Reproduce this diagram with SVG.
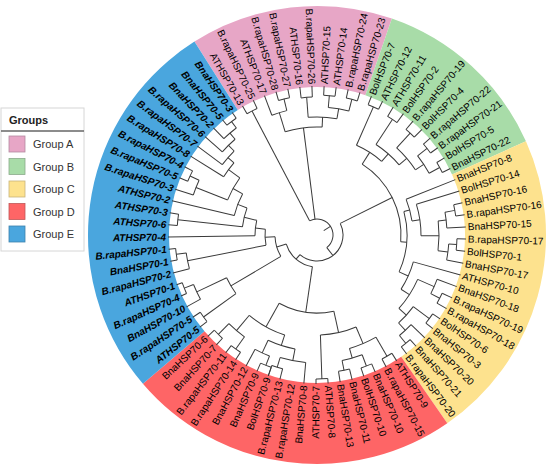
<svg xmlns="http://www.w3.org/2000/svg" width="550" height="473" viewBox="0 0 550 473">
<style>
.t{font-family:"Liberation Sans",Arial,sans-serif;font-size:10px;fill:#000;dominant-baseline:central}
.f{text-anchor:end}
.e{font-weight:bold;font-style:italic}
.band{fill:none;stroke-width:81}
.lg{font-family:"Liberation Sans",Arial,sans-serif;font-size:11px;fill:#333}
</style>
<rect width="550" height="473" fill="#fff"/>
<g id="bands" transform="translate(317 235)">
<circle id="band-A" class="band" r="188.5" pathLength="360" stroke="#E7A6C6" stroke-dasharray="51.43 400" transform="rotate(-122.34)"/>
<circle id="band-B" class="band" r="188.5" pathLength="360" stroke="#A8DCA8" stroke-dasharray="46.75 400" transform="rotate(-70.91)"/>
<circle id="band-C" class="band" r="188.5" pathLength="360" stroke="#FDE28E" stroke-dasharray="79.48 400" transform="rotate(-24.16)"/>
<circle id="band-D" class="band" r="188.5" pathLength="360" stroke="#FE6566" stroke-dasharray="84.16 400" transform="rotate(55.32)"/>
<circle id="band-E" class="band" r="188.5" pathLength="360" stroke="#4AA6DE" stroke-dasharray="98.18 400" transform="rotate(139.48)"/>
</g>
<g id="connectors" transform="translate(317 235)" fill="none" stroke="#3a3a3a" stroke-width="1">
<g id="radials">
<line x1="8" x2="16" transform="rotate(-32.7)"/>
<line x1="16" x2="140" transform="rotate(-117.66)"/>
<line x1="140" x2="149" transform="rotate(-120)"/>
<line x1="140" x2="149" transform="rotate(-115.32)"/>
<line x1="16" x2="108" transform="rotate(-97.21)"/>
<line x1="108" x2="128" transform="rotate(-107.14)"/>
<line x1="128" x2="149" transform="rotate(-110.65)"/>
<line x1="128" x2="140" transform="rotate(-103.64)"/>
<line x1="140" x2="149" transform="rotate(-105.97)"/>
<line x1="140" x2="149" transform="rotate(-101.30)"/>
<line x1="108" x2="118" transform="rotate(-87.28)"/>
<line x1="118" x2="138" transform="rotate(-94.29)"/>
<line x1="138" x2="149" transform="rotate(-96.62)"/>
<line x1="138" x2="149" transform="rotate(-91.95)"/>
<line x1="118" x2="128" transform="rotate(-80.26)"/>
<line x1="128" x2="140" transform="rotate(-84.94)"/>
<line x1="140" x2="149" transform="rotate(-87.27)"/>
<line x1="140" x2="149" transform="rotate(-82.60)"/>
<line x1="128" x2="140" transform="rotate(-75.59)"/>
<line x1="140" x2="149" transform="rotate(-77.92)"/>
<line x1="140" x2="149" transform="rotate(-73.25)"/>
<line x1="16" x2="26" transform="rotate(52.2)"/>
<line x1="26" x2="84" transform="rotate(-26.47)"/>
<line x1="84" x2="98" transform="rotate(-57.48)"/>
<line x1="98" x2="140" transform="rotate(-66.24)"/>
<line x1="140" x2="149" transform="rotate(-68.57)"/>
<line x1="140" x2="149" transform="rotate(-63.90)"/>
<line x1="98" x2="108" transform="rotate(-48.71)"/>
<line x1="108" x2="138" transform="rotate(-56.89)"/>
<line x1="138" x2="149" transform="rotate(-59.22)"/>
<line x1="138" x2="149" transform="rotate(-54.55)"/>
<line x1="108" x2="118" transform="rotate(-40.52)"/>
<line x1="118" x2="138" transform="rotate(-47.53)"/>
<line x1="138" x2="149" transform="rotate(-49.87)"/>
<line x1="138" x2="149" transform="rotate(-45.19)"/>
<line x1="118" x2="128" transform="rotate(-33.51)"/>
<line x1="128" x2="140" transform="rotate(-38.18)"/>
<line x1="140" x2="149" transform="rotate(-40.52)"/>
<line x1="140" x2="149" transform="rotate(-35.84)"/>
<line x1="128" x2="140" transform="rotate(-28.83)"/>
<line x1="140" x2="149" transform="rotate(-31.17)"/>
<line x1="140" x2="149" transform="rotate(-26.49)"/>
<line x1="84" x2="90" transform="rotate(4.55)"/>
<line x1="90" x2="96" transform="rotate(-15.10)"/>
<line x1="96" x2="149" transform="rotate(-21.82)"/>
<line x1="96" x2="104" transform="rotate(-8.38)"/>
<line x1="104" x2="149" transform="rotate(-17.14)"/>
<line x1="104" x2="122" transform="rotate(0.39)"/>
<line x1="122" x2="130" transform="rotate(-6.63)"/>
<line x1="130" x2="140" transform="rotate(-10.13)"/>
<line x1="140" x2="149" transform="rotate(-12.47)"/>
<line x1="140" x2="149" transform="rotate(-7.79)"/>
<line x1="130" x2="149" transform="rotate(-3.12)"/>
<line x1="122" x2="132" transform="rotate(7.40)"/>
<line x1="132" x2="140" transform="rotate(3.90)"/>
<line x1="140" x2="149" transform="rotate(1.56)"/>
<line x1="140" x2="149" transform="rotate(6.23)"/>
<line x1="132" x2="149" transform="rotate(10.91)"/>
<line x1="90" x2="100" transform="rotate(24.21)"/>
<line x1="100" x2="149" transform="rotate(15.58)"/>
<line x1="100" x2="110" transform="rotate(32.83)"/>
<line x1="110" x2="128" transform="rotate(23.77)"/>
<line x1="128" x2="149" transform="rotate(20.26)"/>
<line x1="128" x2="138" transform="rotate(27.28)"/>
<line x1="138" x2="149" transform="rotate(24.94)"/>
<line x1="138" x2="149" transform="rotate(29.61)"/>
<line x1="110" x2="120" transform="rotate(41.89)"/>
<line x1="120" x2="140" transform="rotate(36.63)"/>
<line x1="140" x2="149" transform="rotate(34.29)"/>
<line x1="140" x2="149" transform="rotate(38.96)"/>
<line x1="120" x2="130" transform="rotate(47.15)"/>
<line x1="130" x2="149" transform="rotate(43.64)"/>
<line x1="130" x2="140" transform="rotate(50.65)"/>
<line x1="140" x2="149" transform="rotate(48.31)"/>
<line x1="140" x2="149" transform="rotate(52.99)"/>
<line x1="26" x2="32" transform="rotate(130.9)"/>
<line x1="32" x2="78" transform="rotate(98.28)"/>
<line x1="78" x2="100" transform="rotate(77.53)"/>
<line x1="100" x2="118" transform="rotate(67.01)"/>
<line x1="118" x2="140" transform="rotate(60.00)"/>
<line x1="140" x2="149" transform="rotate(57.66)"/>
<line x1="140" x2="149" transform="rotate(62.34)"/>
<line x1="118" x2="128" transform="rotate(74.03)"/>
<line x1="128" x2="140" transform="rotate(69.35)"/>
<line x1="140" x2="149" transform="rotate(67.01)"/>
<line x1="140" x2="149" transform="rotate(71.69)"/>
<line x1="128" x2="138" transform="rotate(78.70)"/>
<line x1="138" x2="149" transform="rotate(76.36)"/>
<line x1="138" x2="149" transform="rotate(81.04)"/>
<line x1="100" x2="144" transform="rotate(88.05)"/>
<line x1="144" x2="149" transform="rotate(85.71)"/>
<line x1="144" x2="149" transform="rotate(90.39)"/>
<line x1="78" x2="105" transform="rotate(119.03)"/>
<line x1="105" x2="116" transform="rotate(107.92)"/>
<line x1="116" x2="128" transform="rotate(100.91)"/>
<line x1="128" x2="149" transform="rotate(95.06)"/>
<line x1="128" x2="138" transform="rotate(106.75)"/>
<line x1="138" x2="149" transform="rotate(104.42)"/>
<line x1="138" x2="149" transform="rotate(109.09)"/>
<line x1="116" x2="130" transform="rotate(114.94)"/>
<line x1="130" x2="140" transform="rotate(111.43)"/>
<line x1="140" x2="149" transform="rotate(109.09)"/>
<line x1="140" x2="149" transform="rotate(113.77)"/>
<line x1="130" x2="149" transform="rotate(118.44)"/>
<line x1="105" x2="125" transform="rotate(130.13)"/>
<line x1="125" x2="140" transform="rotate(125.46)"/>
<line x1="140" x2="149" transform="rotate(123.12)"/>
<line x1="140" x2="149" transform="rotate(127.79)"/>
<line x1="125" x2="140" transform="rotate(134.81)"/>
<line x1="140" x2="149" transform="rotate(132.47)"/>
<line x1="140" x2="149" transform="rotate(137.14)"/>
<line x1="32" x2="42" transform="rotate(163.5)"/>
<line x1="42" x2="100" transform="rotate(149.42)"/>
<line x1="100" x2="140" transform="rotate(144.16)"/>
<line x1="140" x2="149" transform="rotate(141.82)"/>
<line x1="140" x2="149" transform="rotate(146.49)"/>
<line x1="100" x2="133" transform="rotate(154.68)"/>
<line x1="133" x2="149" transform="rotate(151.17)"/>
<line x1="133" x2="143" transform="rotate(158.18)"/>
<line x1="143" x2="149" transform="rotate(155.84)"/>
<line x1="143" x2="149" transform="rotate(160.52)"/>
<line x1="42" x2="52" transform="rotate(177.58)"/>
<line x1="52" x2="132" transform="rotate(168.70)"/>
<line x1="132" x2="149" transform="rotate(165.19)"/>
<line x1="132" x2="142" transform="rotate(172.21)"/>
<line x1="142" x2="149" transform="rotate(169.87)"/>
<line x1="142" x2="149" transform="rotate(174.55)"/>
<line x1="52" x2="62" transform="rotate(186.45)"/>
<line x1="62" x2="149" transform="rotate(179.22)"/>
<line x1="62" x2="75" transform="rotate(193.67)"/>
<line x1="75" x2="140" transform="rotate(186.24)"/>
<line x1="140" x2="149" transform="rotate(183.90)"/>
<line x1="140" x2="149" transform="rotate(188.57)"/>
<line x1="75" x2="85" transform="rotate(201.1)"/>
<line x1="85" x2="149" transform="rotate(193.25)"/>
<line x1="85" x2="96" transform="rotate(208.96)"/>
<line x1="96" x2="130" transform="rotate(201.43)"/>
<line x1="130" x2="149" transform="rotate(197.92)"/>
<line x1="130" x2="140" transform="rotate(204.94)"/>
<line x1="140" x2="149" transform="rotate(202.60)"/>
<line x1="140" x2="149" transform="rotate(207.27)"/>
<line x1="96" x2="110" transform="rotate(216.48)"/>
<line x1="110" x2="149" transform="rotate(211.95)"/>
<line x1="110" x2="118" transform="rotate(221.0)"/>
<line x1="118" x2="149" transform="rotate(216.62)"/>
<line x1="118" x2="126" transform="rotate(225.39)"/>
<line x1="126" x2="149" transform="rotate(221.30)"/>
<line x1="126" x2="134" transform="rotate(229.48)"/>
<line x1="134" x2="149" transform="rotate(225.97)"/>
<line x1="134" x2="142" transform="rotate(233.0)"/>
<line x1="142" x2="149" transform="rotate(230.65)"/>
<line x1="142" x2="149" transform="rotate(235.32)"/>
</g>
<g id="arcs">
<circle r="16" pathLength="360" stroke-dasharray="169.86 400" transform="rotate(-117.66)"/>
<circle r="140" pathLength="360" stroke-dasharray="4.68 400" transform="rotate(-120)"/>
<circle r="108" pathLength="360" stroke-dasharray="19.86 400" transform="rotate(-107.14)"/>
<circle r="128" pathLength="360" stroke-dasharray="7.01 400" transform="rotate(-110.65)"/>
<circle r="140" pathLength="360" stroke-dasharray="4.67 400" transform="rotate(-105.97)"/>
<circle r="118" pathLength="360" stroke-dasharray="14.03 400" transform="rotate(-94.29)"/>
<circle r="138" pathLength="360" stroke-dasharray="4.67 400" transform="rotate(-96.62)"/>
<circle r="128" pathLength="360" stroke-dasharray="9.35 400" transform="rotate(-84.94)"/>
<circle r="140" pathLength="360" stroke-dasharray="4.67 400" transform="rotate(-87.27)"/>
<circle r="140" pathLength="360" stroke-dasharray="4.67 400" transform="rotate(-77.92)"/>
<circle r="26" pathLength="360" stroke-dasharray="157.37 400" transform="rotate(-26.47)"/>
<circle r="84" pathLength="360" stroke-dasharray="62.03 400" transform="rotate(-57.48)"/>
<circle r="98" pathLength="360" stroke-dasharray="17.53 400" transform="rotate(-66.24)"/>
<circle r="140" pathLength="360" stroke-dasharray="4.67 400" transform="rotate(-68.57)"/>
<circle r="108" pathLength="360" stroke-dasharray="16.37 400" transform="rotate(-56.89)"/>
<circle r="138" pathLength="360" stroke-dasharray="4.67 400" transform="rotate(-59.22)"/>
<circle r="118" pathLength="360" stroke-dasharray="14.02 400" transform="rotate(-47.53)"/>
<circle r="138" pathLength="360" stroke-dasharray="4.68 400" transform="rotate(-49.87)"/>
<circle r="128" pathLength="360" stroke-dasharray="9.35 400" transform="rotate(-38.18)"/>
<circle r="140" pathLength="360" stroke-dasharray="4.68 400" transform="rotate(-40.52)"/>
<circle r="140" pathLength="360" stroke-dasharray="4.68 400" transform="rotate(-31.17)"/>
<circle r="90" pathLength="360" stroke-dasharray="39.31 400" transform="rotate(-15.10)"/>
<circle r="96" pathLength="360" stroke-dasharray="13.44 400" transform="rotate(-21.82)"/>
<circle r="104" pathLength="360" stroke-dasharray="17.53 400" transform="rotate(-17.14)"/>
<circle r="122" pathLength="360" stroke-dasharray="14.03 400" transform="rotate(-6.63)"/>
<circle r="130" pathLength="360" stroke-dasharray="7.01 400" transform="rotate(-10.13)"/>
<circle r="140" pathLength="360" stroke-dasharray="4.68 400" transform="rotate(-12.47)"/>
<circle r="132" pathLength="360" stroke-dasharray="7.01 400" transform="rotate(3.90)"/>
<circle r="140" pathLength="360" stroke-dasharray="4.67 400" transform="rotate(1.56)"/>
<circle r="100" pathLength="360" stroke-dasharray="17.25 400" transform="rotate(15.58)"/>
<circle r="110" pathLength="360" stroke-dasharray="18.12 400" transform="rotate(23.77)"/>
<circle r="128" pathLength="360" stroke-dasharray="7.02 400" transform="rotate(20.26)"/>
<circle r="138" pathLength="360" stroke-dasharray="4.67 400" transform="rotate(24.94)"/>
<circle r="120" pathLength="360" stroke-dasharray="10.52 400" transform="rotate(36.63)"/>
<circle r="140" pathLength="360" stroke-dasharray="4.67 400" transform="rotate(34.29)"/>
<circle r="130" pathLength="360" stroke-dasharray="7.01 400" transform="rotate(43.64)"/>
<circle r="140" pathLength="360" stroke-dasharray="4.68 400" transform="rotate(48.31)"/>
<circle r="32" pathLength="360" stroke-dasharray="65.22 400" transform="rotate(98.28)"/>
<circle r="78" pathLength="360" stroke-dasharray="41.5 400" transform="rotate(77.53)"/>
<circle r="100" pathLength="360" stroke-dasharray="21.04 400" transform="rotate(67.01)"/>
<circle r="118" pathLength="360" stroke-dasharray="14.03 400" transform="rotate(60.00)"/>
<circle r="140" pathLength="360" stroke-dasharray="4.68 400" transform="rotate(57.66)"/>
<circle r="128" pathLength="360" stroke-dasharray="9.35 400" transform="rotate(69.35)"/>
<circle r="140" pathLength="360" stroke-dasharray="4.68 400" transform="rotate(67.01)"/>
<circle r="138" pathLength="360" stroke-dasharray="4.68 400" transform="rotate(76.36)"/>
<circle r="144" pathLength="360" stroke-dasharray="4.68 400" transform="rotate(85.71)"/>
<circle r="105" pathLength="360" stroke-dasharray="22.21 400" transform="rotate(107.92)"/>
<circle r="116" pathLength="360" stroke-dasharray="14.03 400" transform="rotate(100.91)"/>
<circle r="128" pathLength="360" stroke-dasharray="11.69 400" transform="rotate(95.06)"/>
<circle r="138" pathLength="360" stroke-dasharray="4.67 400" transform="rotate(104.42)"/>
<circle r="130" pathLength="360" stroke-dasharray="7.01 400" transform="rotate(111.43)"/>
<circle r="140" pathLength="360" stroke-dasharray="4.68 400" transform="rotate(109.09)"/>
<circle r="125" pathLength="360" stroke-dasharray="9.35 400" transform="rotate(125.46)"/>
<circle r="140" pathLength="360" stroke-dasharray="4.67 400" transform="rotate(123.12)"/>
<circle r="140" pathLength="360" stroke-dasharray="4.67 400" transform="rotate(132.47)"/>
<circle r="42" pathLength="360" stroke-dasharray="28.16 400" transform="rotate(149.42)"/>
<circle r="100" pathLength="360" stroke-dasharray="10.52 400" transform="rotate(144.16)"/>
<circle r="140" pathLength="360" stroke-dasharray="4.67 400" transform="rotate(141.82)"/>
<circle r="133" pathLength="360" stroke-dasharray="7.01 400" transform="rotate(151.17)"/>
<circle r="143" pathLength="360" stroke-dasharray="4.68 400" transform="rotate(155.84)"/>
<circle r="52" pathLength="360" stroke-dasharray="17.75 400" transform="rotate(168.70)"/>
<circle r="132" pathLength="360" stroke-dasharray="7.02 400" transform="rotate(165.19)"/>
<circle r="142" pathLength="360" stroke-dasharray="4.68 400" transform="rotate(169.87)"/>
<circle r="62" pathLength="360" stroke-dasharray="14.45 400" transform="rotate(179.22)"/>
<circle r="75" pathLength="360" stroke-dasharray="14.86 400" transform="rotate(186.24)"/>
<circle r="140" pathLength="360" stroke-dasharray="4.67 400" transform="rotate(183.90)"/>
<circle r="85" pathLength="360" stroke-dasharray="15.71 400" transform="rotate(193.25)"/>
<circle r="96" pathLength="360" stroke-dasharray="15.05 400" transform="rotate(201.43)"/>
<circle r="130" pathLength="360" stroke-dasharray="7.02 400" transform="rotate(197.92)"/>
<circle r="140" pathLength="360" stroke-dasharray="4.67 400" transform="rotate(202.60)"/>
<circle r="110" pathLength="360" stroke-dasharray="9.05 400" transform="rotate(211.95)"/>
<circle r="118" pathLength="360" stroke-dasharray="8.77 400" transform="rotate(216.62)"/>
<circle r="126" pathLength="360" stroke-dasharray="8.18 400" transform="rotate(221.30)"/>
<circle r="134" pathLength="360" stroke-dasharray="7.03 400" transform="rotate(225.97)"/>
<circle r="142" pathLength="360" stroke-dasharray="4.67 400" transform="rotate(230.65)"/>
</g>
</g>
<g id="labels" transform="translate(317 235)">
<g id="leaf00"><text class="t f" transform="rotate(-120) translate(151 0) rotate(180)">ATHSP70-13</text></g>
<g id="leaf01"><text class="t f" transform="rotate(-115.32) translate(151 0) rotate(180)">B.rapaHSP70-25</text></g>
<g id="leaf02"><text class="t f" transform="rotate(-110.65) translate(151 0) rotate(180)">ATHSP70-17</text></g>
<g id="leaf03"><text class="t f" transform="rotate(-105.97) translate(151 0) rotate(180)">B.rapaHSP70-28</text></g>
<g id="leaf04"><text class="t f" transform="rotate(-101.30) translate(151 0) rotate(180)">B.rapaHSP70-27</text></g>
<g id="leaf05"><text class="t f" transform="rotate(-96.62) translate(151 0) rotate(180)">ATHSP70-16</text></g>
<g id="leaf06"><text class="t f" transform="rotate(-91.95) translate(151 0) rotate(180)">B.rapaHSP70-26</text></g>
<g id="leaf07"><text class="t" transform="rotate(-87.27) translate(151 0)">ATHSP70-15</text></g>
<g id="leaf08"><text class="t" transform="rotate(-82.60) translate(151 0)">ATHSP70-14</text></g>
<g id="leaf09"><text class="t" transform="rotate(-77.92) translate(151 0)">B.rapaHSP70-24</text></g>
<g id="leaf10"><text class="t" transform="rotate(-73.25) translate(151 0)">B.rapaHSP70-23</text></g>
<g id="leaf11"><text class="t" transform="rotate(-68.57) translate(151 0)">BolHSP70-7</text></g>
<g id="leaf12"><text class="t" transform="rotate(-63.90) translate(151 0)">ATHSP70-12</text></g>
<g id="leaf13"><text class="t" transform="rotate(-59.22) translate(151 0)">ATHSP70-11</text></g>
<g id="leaf14"><text class="t" transform="rotate(-54.55) translate(151 0)">BolHSP70-2</text></g>
<g id="leaf15"><text class="t" transform="rotate(-49.87) translate(151 0)">B.rapaHSP70-19</text></g>
<g id="leaf16"><text class="t" transform="rotate(-45.19) translate(151 0)">BolHSP70-4</text></g>
<g id="leaf17"><text class="t" transform="rotate(-40.52) translate(151 0)">B.rapaHSP70-22</text></g>
<g id="leaf18"><text class="t" transform="rotate(-35.84) translate(151 0)">B.rapaHSP70-21</text></g>
<g id="leaf19"><text class="t" transform="rotate(-31.17) translate(151 0)">BolHSP70-5</text></g>
<g id="leaf20"><text class="t" transform="rotate(-26.49) translate(151 0)">BnaHSP70-22</text></g>
<g id="leaf21"><text class="t" transform="rotate(-21.82) translate(151 0)">BnaHSP70-8</text></g>
<g id="leaf22"><text class="t" transform="rotate(-17.14) translate(151 0)">BolHSP70-14</text></g>
<g id="leaf23"><text class="t" transform="rotate(-12.47) translate(151 0)">BnaHSP70-16</text></g>
<g id="leaf24"><text class="t" transform="rotate(-7.79) translate(151 0)">B.rapaHSP70-16</text></g>
<g id="leaf25"><text class="t" transform="rotate(-3.12) translate(151 0)">BnaHSP70-15</text></g>
<g id="leaf26"><text class="t" transform="rotate(1.56) translate(151 0)">B.rapaHSP70-17</text></g>
<g id="leaf27"><text class="t" transform="rotate(6.23) translate(151 0)">BolHSP70-1</text></g>
<g id="leaf28"><text class="t" transform="rotate(10.91) translate(151 0)">BnaHSP70-17</text></g>
<g id="leaf29"><text class="t" transform="rotate(15.58) translate(151 0)">ATHSP70-10</text></g>
<g id="leaf30"><text class="t" transform="rotate(20.26) translate(151 0)">BnaHSP70-18</text></g>
<g id="leaf31"><text class="t" transform="rotate(24.94) translate(151 0)">B.rapaHSP70-19</text></g>
<g id="leaf32"><text class="t" transform="rotate(29.61) translate(151 0)">B.rapaHSP70-18</text></g>
<g id="leaf33"><text class="t" transform="rotate(34.29) translate(151 0)">BolHSP70-6</text></g>
<g id="leaf34"><text class="t" transform="rotate(38.96) translate(151 0)">BnaHSP70-3</text></g>
<g id="leaf35"><text class="t" transform="rotate(43.64) translate(151 0)">BnaHSP70-20</text></g>
<g id="leaf36"><text class="t" transform="rotate(48.31) translate(151 0)">BnaHSP70-21</text></g>
<g id="leaf37"><text class="t" transform="rotate(52.99) translate(151 0)">B.rapaHSP70-20</text></g>
<g id="leaf38"><text class="t" transform="rotate(57.66) translate(151 0)">ATHSP70-9</text></g>
<g id="leaf39"><text class="t" transform="rotate(62.34) translate(151 0)">B.rapaHSP70-15</text></g>
<g id="leaf40"><text class="t" transform="rotate(67.01) translate(151 0)">BnaHSP70-10</text></g>
<g id="leaf41"><text class="t" transform="rotate(71.69) translate(151 0)">BolHSP70-10</text></g>
<g id="leaf42"><text class="t" transform="rotate(76.36) translate(151 0)">BnaHSP70-11</text></g>
<g id="leaf43"><text class="t" transform="rotate(81.04) translate(151 0)">BnaHSP70-13</text></g>
<g id="leaf44"><text class="t" transform="rotate(85.71) translate(151 0)">ATHSP70-8</text></g>
<g id="leaf45"><text class="t f" transform="rotate(90.39) translate(151 0) rotate(180)">ATHSP70-7</text></g>
<g id="leaf46"><text class="t f" transform="rotate(95.06) translate(151 0) rotate(180)">BnaHSP70-8</text></g>
<g id="leaf47"><text class="t f" transform="rotate(99.74) translate(151 0) rotate(180)">B.rapaHSP70-12</text></g>
<g id="leaf48"><text class="t f" transform="rotate(104.42) translate(151 0) rotate(180)">B.rapaHSP70-13</text></g>
<g id="leaf49"><text class="t f" transform="rotate(109.09) translate(151 0) rotate(180)">BolHSP70-9</text></g>
<g id="leaf50"><text class="t f" transform="rotate(113.77) translate(151 0) rotate(180)">BnaHSP70-9</text></g>
<g id="leaf51"><text class="t f" transform="rotate(118.44) translate(151 0) rotate(180)">BnaHSP70-12</text></g>
<g id="leaf52"><text class="t f" transform="rotate(123.12) translate(151 0) rotate(180)">B.rapaHSP70-14</text></g>
<g id="leaf53"><text class="t f" transform="rotate(127.79) translate(151 0) rotate(180)">B.rapaHSP70-11</text></g>
<g id="leaf54"><text class="t f" transform="rotate(132.47) translate(151 0) rotate(180)">BnaHSP70-7</text></g>
<g id="leaf55"><text class="t f" transform="rotate(137.14) translate(151 0) rotate(180)">BnaHSP70-6</text></g>
<g id="leaf56"><text class="t f e" transform="rotate(141.82) translate(151 0) rotate(180)">ATHSP70-5</text></g>
<g id="leaf57"><text class="t f e" transform="rotate(146.49) translate(151 0) rotate(180)">B.rapaHSP70-5</text></g>
<g id="leaf58"><text class="t f e" transform="rotate(151.17) translate(151 0) rotate(180)">BnaHSP70-10</text></g>
<g id="leaf59"><text class="t f e" transform="rotate(155.84) translate(151 0) rotate(180)">B.rapaHSP70-4</text></g>
<g id="leaf60"><text class="t f e" transform="rotate(160.52) translate(151 0) rotate(180)">ATHSP70-1</text></g>
<g id="leaf61"><text class="t f e" transform="rotate(165.19) translate(151 0) rotate(180)">B.rapaHSP70-2</text></g>
<g id="leaf62"><text class="t f e" transform="rotate(169.87) translate(151 0) rotate(180)">BnaHSP70-1</text></g>
<g id="leaf63"><text class="t f e" transform="rotate(174.55) translate(151 0) rotate(180)">B.rapaHSP70-1</text></g>
<g id="leaf64"><text class="t f e" transform="rotate(179.22) translate(151 0) rotate(180)">ATHSP70-4</text></g>
<g id="leaf65"><text class="t f e" transform="rotate(183.90) translate(151 0) rotate(180)">ATHSP70-6</text></g>
<g id="leaf66"><text class="t f e" transform="rotate(188.57) translate(151 0) rotate(180)">ATHSP70-3</text></g>
<g id="leaf67"><text class="t f e" transform="rotate(193.25) translate(151 0) rotate(180)">ATHSP70-2</text></g>
<g id="leaf68"><text class="t f e" transform="rotate(197.92) translate(151 0) rotate(180)">B.rapaHSP70-3</text></g>
<g id="leaf69"><text class="t f e" transform="rotate(202.60) translate(151 0) rotate(180)">B.rapaHSP70-5</text></g>
<g id="leaf70"><text class="t f e" transform="rotate(207.27) translate(151 0) rotate(180)">B.rapaHSP70-4</text></g>
<g id="leaf71"><text class="t f e" transform="rotate(211.95) translate(151 0) rotate(180)">B.rapaHSP70-8</text></g>
<g id="leaf72"><text class="t f e" transform="rotate(216.62) translate(151 0) rotate(180)">B.rapaHSP70-7</text></g>
<g id="leaf73"><text class="t f e" transform="rotate(221.30) translate(151 0) rotate(180)">B.rapaHSP70-6</text></g>
<g id="leaf74"><text class="t f e" transform="rotate(225.97) translate(151 0) rotate(180)">BnaHSP70-2</text></g>
<g id="leaf75"><text class="t f e" transform="rotate(230.65) translate(151 0) rotate(180)">BnaHSP70-5</text></g>
<g id="leaf76"><text class="t f e" transform="rotate(235.32) translate(151 0) rotate(180)">BnaHSP70-3</text></g>
</g>
<g id="legend">
<rect x="1" y="108" width="83" height="143" fill="#fff" stroke="#d6d6d6"/>
<text x="9" y="124" class="lg" style="font-weight:bold;fill:#222">Groups</text>
<line x1="1" y1="131" x2="84" y2="131" stroke="#666" stroke-width="1.5"/>
<g id="legend-A"><rect x="9" y="136" width="16" height="16" fill="#E7A6C6" stroke="#b58aa0" stroke-width="0.8"/><text x="33" y="148" class="lg">Group A</text></g>
<g id="legend-B"><rect x="9" y="158.5" width="16" height="16" fill="#A8DCA8" stroke="#8aaa8a" stroke-width="0.8"/><text x="33" y="170.5" class="lg">Group B</text></g>
<g id="legend-C"><rect x="9" y="181" width="16" height="16" fill="#FDE28E" stroke="#c8b47a" stroke-width="0.8"/><text x="33" y="193" class="lg">Group C</text></g>
<g id="legend-D"><rect x="9" y="203.5" width="16" height="16" fill="#FE6566" stroke="#c05858" stroke-width="0.8"/><text x="33" y="215.5" class="lg">Group D</text></g>
<g id="legend-E"><rect x="9" y="226" width="16" height="16" fill="#4AA6DE" stroke="#3d82ad" stroke-width="0.8"/><text x="33" y="238" class="lg">Group E</text></g>
</g>
</svg>
